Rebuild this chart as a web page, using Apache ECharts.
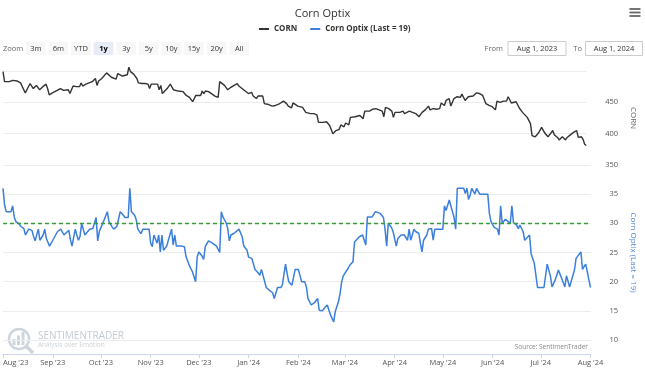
<!DOCTYPE html>
<html>
<head>
<meta charset="utf-8">
<script src="https://cdn.jsdelivr.net/npm/echarts@6/dist/echarts.min.js"></script>
<style>
html,body{margin:0;padding:0;background:#fff;}
#chart{width:645px;height:372px;}
</style>
</head>
<body>
<div id="chart"></div>
<script>
// ---------- DATA ----------
const chartTitle = 'Corn Optix';
const cornName = 'CORN';
const optixName = 'Corn Optix (Last = 19)';
const dateMin = '2023-08-01';
const dateMax = '2024-08-01';
const threshold = 30;
const zoomButtons = ['3m','6m','YTD','1y','3y','5y','10y','15y','20y','All'];
const selectedButton = '1y';
const fromText = 'Aug 1, 2023';
const toText = 'Aug 1, 2024';
const monthNames = ['Jan','Feb','Mar','Apr','May','Jun','Jul','Aug','Sep','Oct','Nov','Dec'];

const cornData = [
['2023-08-01',499],['2023-08-02',483],['2023-08-03',484],['2023-08-05',483],['2023-08-07',485],['2023-08-08',483],['2023-08-10',484],['2023-08-12',481],['2023-08-13',479],['2023-08-15',465],['2023-08-16',470],['2023-08-18',480],['2023-08-20',472],['2023-08-21',469],['2023-08-22',477],['2023-08-24',470],['2023-08-26',475],['2023-08-27',472],['2023-08-28',479],['2023-08-29',472],['2023-08-30',462],
['2023-09-01',465],['2023-09-04',469],['2023-09-06',472],['2023-09-08',469],['2023-09-09',472],['2023-09-11',470],['2023-09-12',464],['2023-09-13',463],['2023-09-14',476],['2023-09-16',475],['2023-09-17',477],['2023-09-18',475],['2023-09-19',481],['2023-09-20',476],['2023-09-22',479],['2023-09-24',481],['2023-09-25',483],['2023-09-26',483],['2023-09-28',488],['2023-09-29',477],['2023-09-30',484],
['2023-10-02',488],['2023-10-03',490],['2023-10-05',497],['2023-10-06',494],['2023-10-08',490],['2023-10-11',487],['2023-10-12',496],['2023-10-13',494],['2023-10-15',492],['2023-10-16',494],['2023-10-18',494],['2023-10-19',506],['2023-10-20',499],['2023-10-22',495],['2023-10-24',488],['2023-10-25',481],['2023-10-27',480],['2023-10-29',480],['2023-10-31',479],
['2023-11-01',472],['2023-11-02',479],['2023-11-04',479],['2023-11-06',479],['2023-11-07',470],['2023-11-08',477],['2023-11-09',464],['2023-11-12',472],['2023-11-14',479],['2023-11-15',476],['2023-11-16',470],['2023-11-17',470],['2023-11-19',468],['2023-11-20',469],['2023-11-22',467],['2023-11-24',461],['2023-11-26',458],['2023-11-28',451],['2023-11-29',451],['2023-11-30',461],
['2023-12-01',464],['2023-12-03',461],['2023-12-04',468],['2023-12-05',464],['2023-12-06',468],['2023-12-08',467],['2023-12-09',464],['2023-12-12',460],['2023-12-13',458],['2023-12-14',458],['2023-12-15',483],['2023-12-16',481],['2023-12-18',477],['2023-12-20',470],['2023-12-22',474],['2023-12-24',477],['2023-12-26',480],['2023-12-27',476],['2023-12-29',472],['2023-12-31',468],
['2024-01-02',464],['2024-01-04',466],['2024-01-05',460],['2024-01-07',456],['2024-01-08',460],['2024-01-11',460],['2024-01-12',448],['2024-01-14',447],['2024-01-17',444],['2024-01-19',445],['2024-01-21',447],['2024-01-22',447],['2024-01-24',452],['2024-01-26',448],['2024-01-27',444],['2024-01-29',441],['2024-01-30',449],['2024-01-31',448],
['2024-02-02',444],['2024-02-03',442],['2024-02-05',442],['2024-02-06',438],['2024-02-07',434],['2024-02-10',432],['2024-02-12',432],['2024-02-14',430],['2024-02-15',418],['2024-02-18',418],['2024-02-20',419],['2024-02-22',413],['2024-02-24',400],['2024-02-26',405],['2024-02-28',407],['2024-02-29',414],
['2024-03-02',411],['2024-03-03',417],['2024-03-05',414],['2024-03-06',426],['2024-03-09',427],['2024-03-12',429],['2024-03-14',424],['2024-03-15',436],['2024-03-18',436],['2024-03-20',439],['2024-03-22',440],['2024-03-24',438],['2024-03-26',436],['2024-03-27',427],['2024-03-28',442],['2024-03-30',440],
['2024-04-01',436],['2024-04-02',426],['2024-04-03',434],['2024-04-06',434],['2024-04-08',436],['2024-04-09',432],['2024-04-12',436],['2024-04-13',433],['2024-04-16',432],['2024-04-18',427],['2024-04-20',434],['2024-04-22',438],['2024-04-24',444],['2024-04-25',438],['2024-04-27',440],['2024-04-29',439],
['2024-05-01',440],['2024-05-02',449],['2024-05-04',445],['2024-05-05',453],['2024-05-07',456],['2024-05-08',444],['2024-05-10',456],['2024-05-12',459],['2024-05-14',458],['2024-05-15',463],['2024-05-17',453],['2024-05-19',459],['2024-05-20',461],['2024-05-22',460],['2024-05-24',465],['2024-05-26',464],['2024-05-28',461],['2024-05-30',448],
['2024-06-01',445],['2024-06-03',443],['2024-06-05',438],['2024-06-06',452],['2024-06-08',450],['2024-06-10',452],['2024-06-12',452],['2024-06-13',459],['2024-06-15',449],['2024-06-16',448],['2024-06-18',451],['2024-06-20',441],['2024-06-22',434],['2024-06-23',434],['2024-06-25',426],['2024-06-27',416],['2024-06-28',397],['2024-06-30',395],
['2024-07-02',401],['2024-07-04',410],['2024-07-06',401],['2024-07-08',395],['2024-07-11',405],['2024-07-12',398],['2024-07-14',394],['2024-07-15',390],['2024-07-17',395],['2024-07-18',398],['2024-07-19',390],['2024-07-20',394],['2024-07-22',398],['2024-07-24',402],['2024-07-26',405],['2024-07-27',394],['2024-07-29',395],['2024-07-30',391],['2024-07-31',383],['2024-08-01',381]
];

const optixData = [
['2023-08-01',36.0],['2023-08-02',33.1],['2023-08-03',32.0],['2023-08-04',32.0],['2023-08-06',32.0],['2023-08-07',33.0],['2023-08-08',31.1],['2023-08-09',30.3],['2023-08-11',29.9],['2023-08-12',29.5],['2023-08-14',29.1],['2023-08-15',28.0],['2023-08-16',28.0],['2023-08-17',29.0],['2023-08-19',28.8],['2023-08-20',27.8],['2023-08-21',27.0],['2023-08-22',27.1],['2023-08-23',29.0],['2023-08-24',27.1],['2023-08-26',28.0],['2023-08-27',29.0],['2023-08-28',27.4],['2023-08-30',26.1],['2023-08-31',26.0],
['2023-09-01',27.1],['2023-09-04',28.6],['2023-09-06',29.0],['2023-09-07',29.0],['2023-09-08',28.0],['2023-09-09',28.3],['2023-09-11',28.8],['2023-09-12',27.2],['2023-09-13',26.1],['2023-09-14',26.0],['2023-09-15',29.0],['2023-09-16',28.0],['2023-09-17',27.1],['2023-09-18',27.8],['2023-09-19',30.0],['2023-09-21',28.0],['2023-09-22',28.3],['2023-09-24',29.0],['2023-09-26',29.1],['2023-09-28',31.0],['2023-09-29',27.0],['2023-09-30',28.6],
['2023-10-02',29.9],['2023-10-03',30.0],['2023-10-05',32.0],['2023-10-06',30.3],['2023-10-08',29.4],['2023-10-09',29.0],['2023-10-11',29.5],['2023-10-13',32.0],['2023-10-15',31.4],['2023-10-16',31.0],['2023-10-18',31.0],['2023-10-19',36.0],['2023-10-20',32.0],['2023-10-22',31.4],['2023-10-23',30.6],['2023-10-24',29.0],['2023-10-25',29.1],['2023-10-26',28.2],['2023-10-27',29.0],['2023-10-29',29.0],['2023-10-31',29.0],
['2023-11-01',26.6],['2023-11-02',26.0],['2023-11-03',28.0],['2023-11-04',28.0],['2023-11-05',26.6],['2023-11-06',28.0],['2023-11-07',25.1],['2023-11-08',28.0],['2023-11-09',25.4],['2023-11-10',25.1],['2023-11-11',26.1],['2023-11-12',27.1],['2023-11-14',29.0],['2023-11-15',26.3],['2023-11-16',28.0],['2023-11-17',26.1],['2023-11-18',26.1],['2023-11-20',26.1],['2023-11-22',26.0],['2023-11-23',24.3],['2023-11-25',22.8],['2023-11-27',21.7],['2023-11-29',20.0],['2023-11-30',24.3],
['2023-12-01',25.1],['2023-12-03',24.4],['2023-12-04',23.8],['2023-12-05',26.0],['2023-12-06',26.1],['2023-12-07',27.0],['2023-12-09',26.7],['2023-12-12',26.1],['2023-12-13',25.9],['2023-12-14',25.0],['2023-12-15',32.0],['2023-12-16',31.1],['2023-12-18',30.1],['2023-12-19',29.1],['2023-12-20',27.0],['2023-12-21',28.0],['2023-12-23',28.3],['2023-12-24',28.6],['2023-12-26',29.0],['2023-12-28',27.7],['2023-12-29',26.1],['2023-12-31',25.4],
['2024-01-01',24.2],['2024-01-03',24.0],['2024-01-04',24.0],['2024-01-05',22.1],['2024-01-07',21.5],['2024-01-08',21.1],['2024-01-09',22.1],['2024-01-10',22.0],['2024-01-12',19.0],['2024-01-14',18.5],['2024-01-16',18.1],['2024-01-17',17.1],['2024-01-19',19.0],['2024-01-21',19.0],['2024-01-22',19.4],['2024-01-24',23.0],['2024-01-25',21.4],['2024-01-26',20.0],['2024-01-28',19.4],['2024-01-29',19.1],['2024-01-30',22.1],
['2024-02-01',22.1],['2024-02-03',20.0],['2024-02-05',20.0],['2024-02-06',19.1],['2024-02-07',17.1],['2024-02-08',17.1],['2024-02-09',16.0],['2024-02-11',16.4],['2024-02-13',17.1],['2024-02-14',15.1],['2024-02-16',15.0],['2024-02-17',15.4],['2024-02-19',16.0],['2024-02-21',14.3],['2024-02-22',14.0],['2024-02-23',13.1],['2024-02-24',14.9],['2024-02-26',16.6],['2024-02-27',18.0],['2024-02-28',20.0],['2024-02-29',21.0],
['2024-03-01',21.1],['2024-03-03',22.3],['2024-03-04',22.8],['2024-03-06',23.4],['2024-03-07',26.8],['2024-03-08',27.1],['2024-03-10',27.7],['2024-03-12',28.0],['2024-03-14',26.3],['2024-03-15',31.1],['2024-03-16',31.1],['2024-03-18',31.1],['2024-03-20',32.0],['2024-03-21',32.0],['2024-03-23',31.7],['2024-03-25',31.0],['2024-03-26',29.0],['2024-03-27',26.1],['2024-03-28',30.0],['2024-03-30',29.3],['2024-03-31',28.6],
['2024-04-02',26.1],['2024-04-03',27.4],['2024-04-05',28.0],['2024-04-07',28.0],['2024-04-08',28.2],['2024-04-09',27.1],['2024-04-10',29.0],['2024-04-11',27.1],['2024-04-13',29.0],['2024-04-14',28.6],['2024-04-16',28.3],['2024-04-17',26.6],['2024-04-18',25.1],['2024-04-19',27.1],['2024-04-21',28.0],['2024-04-22',29.0],['2024-04-24',29.1],['2024-04-25',27.1],['2024-04-26',29.0],['2024-04-28',29.0],['2024-04-29',29.0],
['2024-05-01',29.0],['2024-05-02',33.0],['2024-05-03',32.2],['2024-05-05',34.0],['2024-05-06',34.1],['2024-05-08',31.0],['2024-05-09',29.0],['2024-05-10',36.0],['2024-05-12',36.0],['2024-05-14',36.0],['2024-05-15',35.1],['2024-05-16',36.0],['2024-05-17',34.1],['2024-05-18',34.8],['2024-05-19',36.0],['2024-05-21',35.0],['2024-05-22',36.0],['2024-05-24',35.0],['2024-05-27',35.0],['2024-05-29',35.0],['2024-05-30',31.7],['2024-05-31',30.3],
['2024-06-02',29.3],['2024-06-04',29.0],['2024-06-05',28.0],['2024-06-06',33.0],['2024-06-07',30.0],['2024-06-09',30.7],['2024-06-10',31.0],['2024-06-12',30.0],['2024-06-13',33.0],['2024-06-14',30.1],['2024-06-16',29.7],['2024-06-17',29.1],['2024-06-18',29.7],['2024-06-20',28.6],['2024-06-21',27.1],['2024-06-22',27.4],['2024-06-24',28.0],['2024-06-25',24.8],['2024-06-27',23.1],['2024-06-29',19.0],
['2024-07-01',19.0],['2024-07-03',19.0],['2024-07-05',23.0],['2024-07-07',21.0],['2024-07-08',19.1],['2024-07-10',20.3],['2024-07-12',22.0],['2024-07-14',20.6],['2024-07-16',19.1],['2024-07-17',21.0],['2024-07-19',19.1],['2024-07-20',19.4],['2024-07-22',22.0],['2024-07-23',24.0],['2024-07-24',24.0],['2024-07-26',25.1],['2024-07-27',22.1],['2024-07-28',22.6],['2024-07-29',23.0],['2024-07-31',20.3],['2024-08-01',19.0]
];

// ---------- CHART ----------
const FONT = '"Open Sans", "DejaVu Sans", sans-serif';
const DAY = 86400000;
const chart = echarts.init(document.getElementById('chart'), null, {renderer:'canvas'});

const graphics = [];
// zoom selector
graphics.push({type:'text', x:3, y:48.5, style:{text:'Zoom', fill:'#666', fontSize:7.5, fontFamily:FONT, verticalAlign:'middle'}});
zoomButtons.forEach((b, i) => {
  const bx = 26 + i * 22.6;
  const sel = b === selectedButton;
  graphics.push({type:'rect', shape:{x:bx, y:42, width:19.5, height:13}, style:{fill: sel ? '#e6ebf5' : '#f7f7f7'}});
  graphics.push({type:'text', x:bx + 9.75, y:48.5, style:{text:b, fill: sel ? '#000' : '#333', fontSize:7.5, fontWeight: sel ? 'bold' : 'normal', fontFamily:FONT, align:'center', verticalAlign:'middle'}});
});
// date range inputs
graphics.push({type:'text', x:503, y:48.5, style:{text:'From', fill:'#666', fontSize:7.5, fontFamily:FONT, align:'right', verticalAlign:'middle'}});
graphics.push({type:'rect', shape:{x:508, y:41.5, width:58, height:14}, style:{fill:'#fff', stroke:'#cccccc', lineWidth:1}});
graphics.push({type:'text', x:537, y:48.5, style:{text:fromText, fill:'#333', fontSize:7.5, fontFamily:FONT, align:'center', verticalAlign:'middle'}});
graphics.push({type:'text', x:582, y:48.5, style:{text:'To', fill:'#666', fontSize:7.5, fontFamily:FONT, align:'right', verticalAlign:'middle'}});
graphics.push({type:'rect', shape:{x:585.5, y:41.5, width:57, height:14}, style:{fill:'#fff', stroke:'#cccccc', lineWidth:1}});
graphics.push({type:'text', x:614, y:48.5, style:{text:toText, fill:'#333', fontSize:7.5, fontFamily:FONT, align:'center', verticalAlign:'middle'}});
// hamburger menu
[9, 12.5, 16].forEach(yy => graphics.push({type:'rect', shape:{x:629.5, y:yy - 0.9, width:11, height:1.8}, style:{fill:'#666'}}));
// watermark
const wm = '#cfd5dc';
graphics.push({type:'circle', shape:{cx:19, cy:339, r:10}, style:{fill:'none', stroke:wm, lineWidth:2.5}});
graphics.push({type:'rect', shape:{x:12.5, y:339, width:3, height:6}, style:{fill:wm}});
graphics.push({type:'rect', shape:{x:17, y:335.5, width:3, height:9.5}, style:{fill:wm}});
graphics.push({type:'rect', shape:{x:21.5, y:332, width:3, height:13}, style:{fill:wm}});
graphics.push({type:'line', shape:{x1:26.5, y1:346.5, x2:33, y2:353}, style:{stroke:wm, lineWidth:3.5}});
graphics.push({type:'text', x:38, y:336, style:{text:'SENTIMENTRADER', fill:'#c3cbd3', fontSize:10, fontFamily:FONT, verticalAlign:'middle'}});
graphics.push({type:'text', x:38, y:345.5, style:{text:'Analysis over Emotion', fill:'#ccd2d8', fontSize:6.5, fontFamily:FONT, verticalAlign:'middle'}});
// source
graphics.push({type:'text', x:588, y:347, style:{text:'Source: SentimenTrader', fill:'#888', fontSize:6.5, fontFamily:FONT, align:'right', verticalAlign:'middle'}});

const splitStyle = {show:true, lineStyle:{color:'#ececec', width:1}};

const option = {
  animation:false,
  backgroundColor:'#ffffff',
  textStyle:{fontFamily:FONT},
  title:{text:chartTitle, left:'center', top:3, textStyle:{fontSize:11, fontWeight:'normal', color:'#333', fontFamily:FONT}},
  legend:{
    top:20, left:254, itemWidth:10, itemHeight:2, itemGap:13, icon:'rect',
    textStyle:{fontSize:8, fontWeight:'bold', color:'#333', fontFamily:FONT},
    data:[cornName, optixName]
  },
  grid:[
    {left:3, right:52, top:71, height:94},
    {left:3, right:52, top:165, height:175}
  ],
  xAxis:[
    {type:'time', gridIndex:0, min:dateMin, max:dateMax, show:false},
    {type:'time', gridIndex:1, min:dateMin, max:dateMax, offset:14,
     minInterval:28 * DAY, maxInterval:31 * DAY,
     axisLine:{show:true, lineStyle:{color:'#ccd6eb', width:1}},
     axisTick:{show:true, length:4, lineStyle:{color:'#ccd6eb'}},
     splitLine:{show:false},
     axisLabel:{
       color:'#555', fontSize:7.5, margin:5, fontFamily:FONT,
       showMinLabel:true, showMaxLabel:true, alignMinLabel:'left', hideOverlap:false,
       formatter:function(v){ const d = new Date(v); return monthNames[d.getMonth()] + " '" + String(d.getFullYear()).slice(2); }
     }
    }
  ],
  yAxis:[
    {type:'value', gridIndex:0, position:'right', min:350, max:500, interval:50,
     name:cornName, nameLocation:'middle', nameRotate:-90, nameGap:37,
     nameTextStyle:{color:'#666', fontSize:8, fontFamily:FONT},
     axisLine:{show:false}, axisTick:{show:false}, splitLine:splitStyle,
     axisLabel:{color:'#555', fontSize:7.5, margin:19, align:'left', padding:[0,0,6,0], fontFamily:FONT,
       formatter:function(v){ return v === 500 ? '' : String(v); }}
    },
    {type:'value', gridIndex:1, position:'right', min:10, max:40, interval:5,
     name:optixName, nameLocation:'middle', nameRotate:-90, nameGap:33,
     nameTextStyle:{color:'#4a86d8', fontSize:8, fontFamily:FONT},
     axisLine:{show:false}, axisTick:{show:false}, splitLine:splitStyle,
     axisLabel:{color:'#555', fontSize:7.5, margin:19, align:'left', padding:[0,0,6,0], fontFamily:FONT,
       formatter:function(v){ return v === 40 ? '' : String(v); }}
    }
  ],
  series:[
    {name:cornName, type:'line', xAxisIndex:0, yAxisIndex:0, data:cornData,
     showSymbol:false, symbol:'none', clip:false, color:'#333333',
     lineStyle:{color:'#333333', width:1.4}},
    {name:optixName, type:'line', xAxisIndex:1, yAxisIndex:1, data:optixData,
     showSymbol:false, symbol:'none', clip:false, color:'#3a7fdc',
     lineStyle:{color:'#3a7fdc', width:1.5},
     markLine:{silent:true, symbol:'none', label:{show:false},
       lineStyle:{color:'#3b9b3b', type:[4,3], width:1.3},
       data:[{yAxis:threshold}]}
    }
  ],
  graphic:graphics
};
chart.setOption(option);
</script>
</body>
</html>
